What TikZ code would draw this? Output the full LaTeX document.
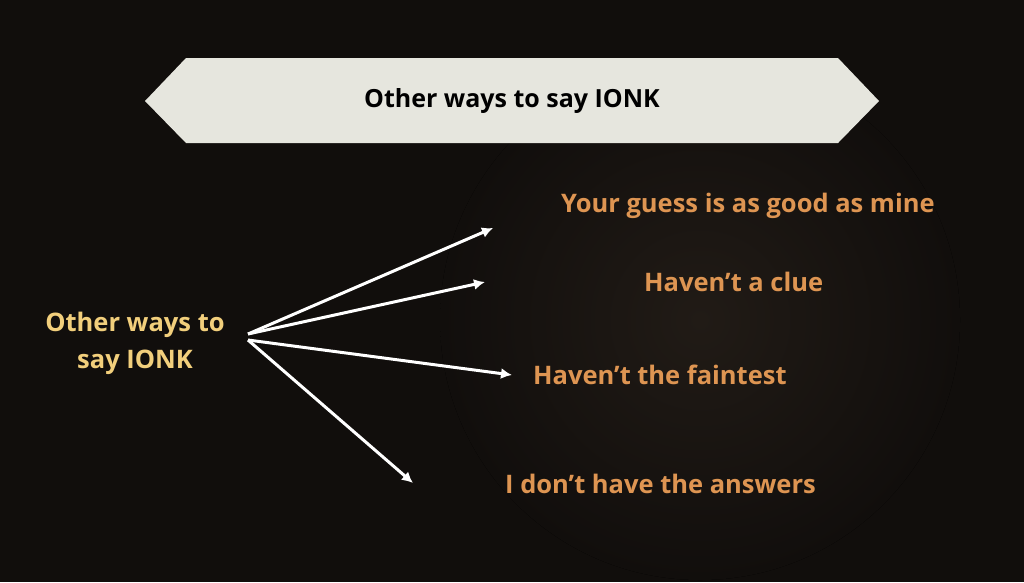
\documentclass[tikz,border=0pt]{standalone}
\usepackage{fontspec}
\setmainfont{Open Sans}
\usetikzlibrary{arrows.meta}

\definecolor{night}{HTML}{110E0C}
\definecolor{haze}{HTML}{211B16}
\definecolor{banner}{HTML}{E6E6DE}
\definecolor{gold}{HTML}{F2CF7C}
\definecolor{amber}{HTML}{DE9552}

\begin{document}
\begin{tikzpicture}[x=1pt, y=-1pt]
		\useasboundingbox (0,0) rectangle (1024,582);
		\begin{scope}
			\clip (0,0) rectangle (1024,582);
			\fill[night] (0,0) rectangle (1024,582);
			\fill[inner color=haze, outer color=night] (700,320) circle (260);
		\end{scope}

		\fill[banner] (145,101) -- (186,58) -- (838,58) -- (879,101) -- (838,143) -- (186,143) -- cycle;
		\node[font=\bfseries\fontsize{25}{30}\selectfont, text=black] (title) at (512,101) {Other ways to say IONK};

		\node[
			font=\bfseries\fontsize{25.5}{37}\selectfont, text=gold,
			align=center
		] (src) at (135,343) {Other ways to\\say IONK};

		\node[font=\bfseries\fontsize{25.5}{30}\selectfont, text=amber, anchor=base west, inner sep=0pt] (guess) at (561,212) {Your guess is as good as mine};
		\node[font=\bfseries\fontsize{25.5}{30}\selectfont, text=amber, anchor=base west, inner sep=0pt] (clue) at (644,291) {Haven’t a clue};
		\node[font=\bfseries\fontsize{25.5}{30}\selectfont, text=amber, anchor=base west, inner sep=0pt] (faint) at (533,384) {Haven’t the faintest};
		\node[font=\bfseries\fontsize{25.5}{30}\selectfont, text=amber, anchor=base west, inner sep=0pt] (answers) at (505,493) {I don’t have the answers};

		\coordinate (up) at (248,334);
		\coordinate (down) at (248,340);
		\coordinate (toguess) at (493,228);
		\coordinate (toclue) at (485,282);
		\coordinate (tofaint) at (512,375);
		\coordinate (toanswers) at (413,483);

		\draw[white, line width=3pt, -{Latex[length=11pt, width=11pt]}] (up) -- (toguess);
		\draw[white, line width=3pt, -{Latex[length=11pt, width=11pt]}] (up) -- (toclue);
		\draw[white, line width=3pt, -{Latex[length=11pt, width=11pt]}] (down) -- (tofaint);
		\draw[white, line width=3pt, -{Latex[length=11pt, width=11pt]}] (down) -- (toanswers);
	\end{tikzpicture}
\end{document}
